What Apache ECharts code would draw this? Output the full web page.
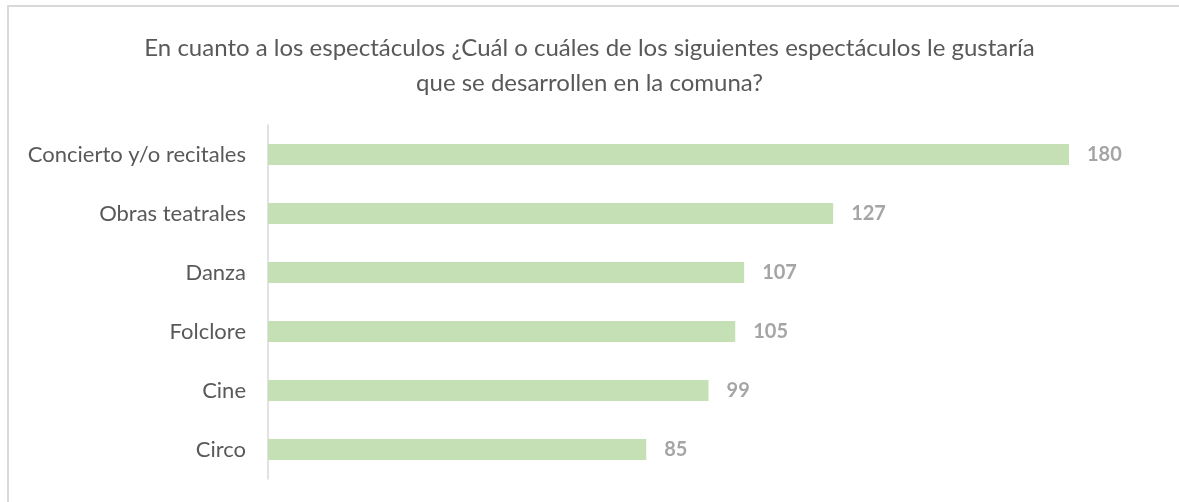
<!DOCTYPE html>
<html>
<head>
<meta charset="utf-8">
<script src="https://cdn.jsdelivr.net/npm/echarts@6/dist/echarts.min.js"></script>
<style>
html,body{margin:0;padding:0;background:#fff;}
#chart{width:1179px;height:502px;}
</style>
</head>
<body>
<div id="chart"></div>
<script>
const titleText = "En cuanto a los espectáculos ¿Cuál o cuáles de los siguientes espectáculos le gustaría\nque se desarrollen en la comuna?";
const categories = ["Concierto y/o recitales", "Obras teatrales", "Danza", "Folclore", "Cine", "Circo"];
const values = [180, 127, 107, 105, 99, 85];

const FONT = "Lato";
const chart = echarts.init(document.getElementById('chart'), null, {renderer: 'canvas'});
chart.setOption({
  backgroundColor: '#ffffff',
  animation: false,
  title: {
    text: titleText,
    left: 'center',
    top: 26,
    textStyle: {fontFamily: FONT, fontSize: 24, fontWeight: 'normal', color: '#595959', lineHeight: 35}
  },
  graphic: [
    {type: 'line', shape: {x1: 7.5, y1: 6, x2: 1179, y2: 6}, style: {stroke: '#D9D9D9', lineWidth: 2}},
    {type: 'line', shape: {x1: 8, y1: 5, x2: 8, y2: 502}, style: {stroke: '#D9D9D9', lineWidth: 2}}
  ],
  grid: {left: 268, right: 21, top: 125, bottom: 23, containLabel: false},
  xAxis: {
    type: 'value', min: 0, max: 200,
    show: false,
    splitLine: {show: false}
  },
  yAxis: {
    type: 'category',
    data: categories,
    inverse: true,
    axisLine: {show: true, lineStyle: {color: '#D9D9D9', width: 1.5}},
    axisTick: {show: false},
    axisLabel: {fontFamily: FONT, fontSize: 22, color: '#595959', margin: 22}
  },
  series: [{
    type: 'bar',
    data: values,
    barWidth: 21,
    itemStyle: {color: '#C5E0B4'},
    label: {show: true, position: 'right', distance: 18, fontFamily: FONT, fontSize: 20, fontWeight: 'bold', color: '#A5A5A5'}
  }]
});
</script>
</body>
</html>
